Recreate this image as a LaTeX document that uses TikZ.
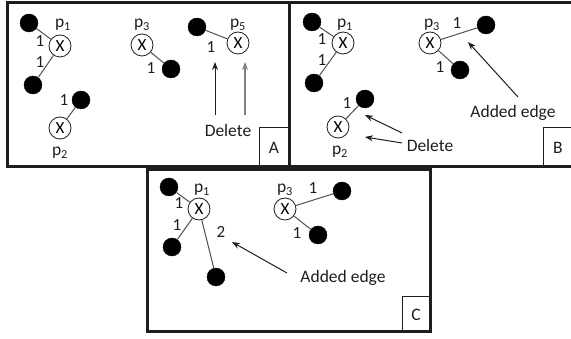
\documentclass[tikz,border=0pt]{standalone}
\usepackage{fontspec}
\setmainfont{Carlito}
\usetikzlibrary{arrows.meta}
\definecolor{ink}{HTML}{1E1E1E}
\definecolor{edgegray}{HTML}{505050}
\tikzset{
  panel/.style={draw=ink, line width=3pt},
  tagbox/.style={draw=ink, line width=1pt},
  dot/.style={circle, fill=black, draw=black, minimum size=18pt, inner sep=0pt},
  pnode/.style={circle, draw=ink, line width=0.8pt, fill=white, minimum size=22pt, inner sep=0pt, font=\fontsize{17}{17}\selectfont},
  txt/.style={text=ink, inner sep=0pt, font=\fontsize{17.5}{17.5}\selectfont},
  wt/.style={text=ink, inner sep=0pt, font=\fontsize{17}{17}\selectfont},
  link/.style={draw=edgegray, line width=1pt},
  pointer/.style={draw=ink, line width=1pt, -{Stealth[length=8pt,width=6pt]}},
  graypointer/.style={draw=gray, line width=1.2pt, -{Stealth[length=8pt,width=6pt]}},
}
\begin{document}
\begin{tikzpicture}[x=1pt, y=-1pt]
\useasboundingbox (0,0) rectangle (571,339);

% ---------- panel frames ----------
\draw[panel] (7,3) rectangle (289,167);
\draw[panel] (289,3) -- (574,3) (289,167) -- (574,167);
\draw[panel] (147,170) rectangle (430,332);

% ---------- panel A ----------
\node[dot] (Aa1) at (29,23) {};
\node[pnode] (Ap1) at (60,46) {X};
\node[dot] (Aa2) at (33,85) {};
\node[dot] (Ab1) at (81,100) {};
\node[pnode] (Ap2) at (60,128) {X};
\node[pnode] (Ap3) at (142,45) {X};
\node[dot] (Ac1) at (171,69) {};
\node[dot] (Ad1) at (197,27) {};
\node[pnode] (Ap5) at (238,43) {X};
\draw[link] (Aa1) -- (Ap1);
\draw[link] (Aa2) -- (Ap1);
\draw[link] (Ab1) -- (Ap2);
\draw[link] (Ac1) -- (Ap3);
\draw[link] (Ad1) -- (Ap5);
\node[txt] (Al1) at (63,25) {p\textsubscript{1}};
\node[txt] (Al2) at (60,153) {p\textsubscript{2}};
\node[txt] (Al3) at (142,25) {p\textsubscript{3}};
\node[txt] (Al5) at (238,25) {p\textsubscript{5}};
\node[wt] (Aw1) at (40,41) {1};
\node[wt] (Aw2) at (40,62) {1};
\node[wt] (Aw3) at (64,100) {1};
\node[wt] (Aw4) at (151,68) {1};
\node[wt] (Aw5) at (211,47) {1};
\node[txt] (Adel) at (228,130) {Delete};
\coordinate (Aarr1) at (215,115);
\coordinate (Aarr2) at (245,115);
\coordinate (Atip1) at (215,62);
\coordinate (Atip2) at (245,62);
\draw[pointer] (Aarr1) -- (Atip1);
\draw[graypointer] (Aarr2) -- (Atip2);
\draw[tagbox] (259,128) rectangle (289,167);
\node[txt] (Atag) at (274,148) {A};

% ---------- panel B ----------
\node[dot] (Ba1) at (312,22) {};
\node[pnode] (Bp1) at (343,43) {X};
\node[dot] (Ba2) at (314,83) {};
\node[dot] (Bb1) at (365,99) {};
\node[pnode] (Bp2) at (338,127) {X};
\node[pnode] (Bp3) at (430,43) {X};
\node[dot] (Bc1) at (486,25) {};
\node[dot] (Bc2) at (460,70) {};
\draw[link] (Ba1) -- (Bp1);
\draw[link] (Ba2) -- (Bp1);
\draw[link] (Bb1) -- (Bp2);
\draw[link] (Bc1) -- (Bp3);
\draw[link] (Bc2) -- (Bp3);
\node[txt] (Bl1) at (345,25) {p\textsubscript{1}};
\node[txt] (Bl2) at (340,152) {p\textsubscript{2}};
\node[txt] (Bl3) at (432,25) {p\textsubscript{3}};
\node[wt] (Bw1) at (322,39) {1};
\node[wt] (Bw2) at (322,60) {1};
\node[wt] (Bw3) at (347,103) {1};
\node[wt] (Bw4) at (457,23) {1};
\node[wt] (Bw5) at (440,67) {1};
\node[txt] (Badd) at (513,113) {Added edge};
\node[txt] (Bdel) at (430,145) {Delete};
\coordinate (Bs1) at (518,97);
\coordinate (Bt1) at (468,42);
\coordinate (Bs2) at (402,133);
\coordinate (Bt2) at (365,115);
\coordinate (Bs3) at (402,143);
\coordinate (Bt3) at (365,137);
\draw[pointer] (Bs1) -- (Bt1);
\draw[pointer] (Bs2) -- (Bt2);
\draw[pointer] (Bs3) -- (Bt3);
\draw[tagbox] (543,128) -- (543,167) (543,128) -- (574,128);
\node[txt] (Btag) at (558,148) {B};

% ---------- panel C ----------
\node[dot] (Ca1) at (169,187) {};
\node[pnode] (Cp1) at (199,209) {X};
\node[dot] (Ca2) at (172,247) {};
\node[dot] (Ca3) at (216,277) {};
\node[pnode] (Cp3) at (285,209) {X};
\node[dot] (Cc1) at (342,191) {};
\node[dot] (Cc2) at (318,235) {};
\draw[link] (Ca1) -- (Cp1);
\draw[link] (Ca2) -- (Cp1);
\draw[link] (Ca3) -- (Cp1);
\draw[link] (Cc1) -- (Cp3);
\draw[link] (Cc2) -- (Cp3);
\node[txt] (Cl1) at (202,190) {p\textsubscript{1}};
\node[txt] (Cl3) at (285,190) {p\textsubscript{3}};
\node[wt] (Cw1) at (179,203) {1};
\node[wt] (Cw2) at (177,225) {1};
\node[wt] (Cw3) at (221,232) {2};
\node[wt] (Cw4) at (313,188) {1};
\node[wt] (Cw5) at (297,233) {1};
\node[txt] (Cadd) at (343,278) {Added edge};
\coordinate (Cs1) at (287,273);
\coordinate (Ct1) at (232,242);
\draw[pointer] (Cs1) -- (Ct1);
\draw[tagbox] (402,297) rectangle (430,332);
\node[txt] (Ctag) at (416,315) {C};
\end{tikzpicture}
\end{document}
